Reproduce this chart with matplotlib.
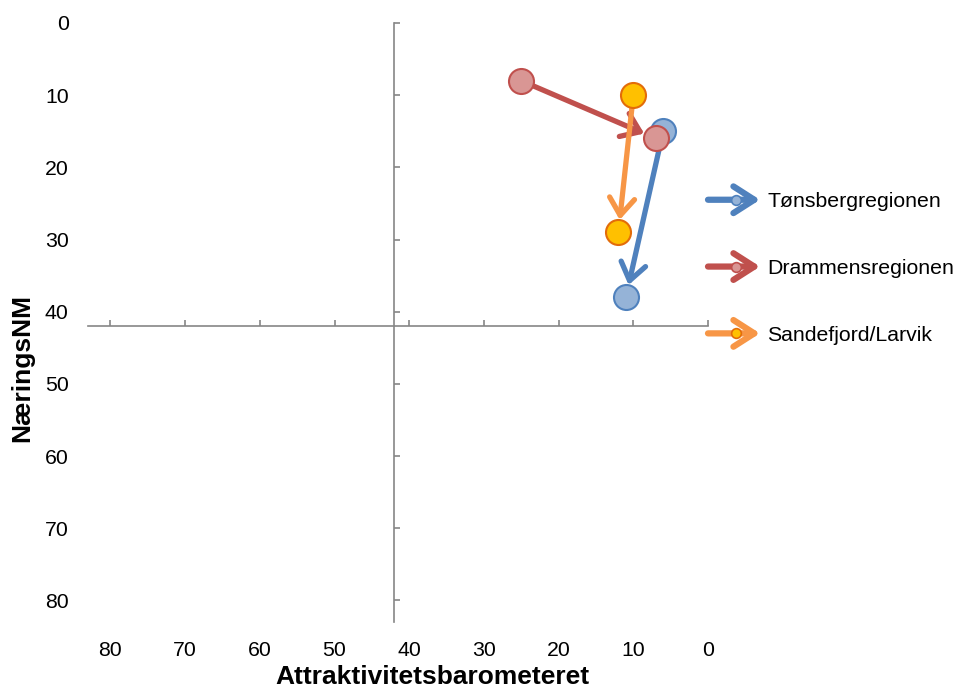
import matplotlib
matplotlib.use("Agg")
import matplotlib.pyplot as plt
from matplotlib.patches import FancyArrowPatch
from matplotlib.lines import Line2D
from matplotlib.legend_handler import HandlerBase

plt.rcParams['font.family'] = ['Liberation Sans', 'DejaVu Sans']

# ---- data ----
regions = ["Tønsbergregionen", "Drammensregionen", "Sandefjord/Larvik"]
x_start = [6, 25, 10]     # Attraktivitetsbarometeret (start)
y_start = [15, 8, 10]     # NæringsNM (start)
x_end = [11, 7, 12]
y_end = [38, 16, 29]
line_colors = ["#4F81BD", "#C0504D", "#F79646"]
face_colors = ["#95B3D7", "#D99694", "#FFC000"]
edge_colors = ["#4F81BD", "#C0504D", "#E36C09"]
ticks = [0, 10, 20, 30, 40, 50, 60, 70, 80]
cross = 42
axis_max = 83

fig = plt.figure(figsize=(9.55, 6.91), dpi=100)
rect = [88 / 955, 1 - 622 / 691, 620 / 955, 599 / 691]

# label axes (tick labels at the outer edges)
ax2 = fig.add_axes(rect)
ax2.set_xlim(axis_max, 0)
ax2.set_ylim(axis_max, 0)
ax2.set_xticks(ticks)
ax2.set_yticks(ticks)
for s in ax2.spines.values():
    s.set_visible(False)
ax2.patch.set_visible(False)
ax2.tick_params(length=0, labelsize=15.3, colors='#000000')
ax2.tick_params(axis='x', pad=14)
ax2.tick_params(axis='y', pad=14)
ax2.set_xlabel("Attraktivitetsbarometeret", fontsize=19, fontweight='bold')
ax2.set_ylabel("NæringsNM", fontsize=19, fontweight='bold')
ax2.xaxis.set_label_coords(0.555, -0.092)
ax2.xaxis.label.set_va('center')
ax2.yaxis.set_label_coords(-0.106, 0.424)
ax2.yaxis.label.set_va('center')

# main axes with crossing spines
ax = fig.add_axes(rect)
ax.set_xlim(axis_max, 0)
ax.set_ylim(axis_max, 0)
ax.patch.set_visible(False)
ax.set_xticks(ticks)
ax.set_yticks(ticks)
ax.spines['top'].set_visible(False)
ax.spines['right'].set_visible(False)
ax.spines['left'].set_position(('data', cross))
ax.spines['bottom'].set_position(('data', cross))
for k in ['left', 'bottom']:
    ax.spines[k].set_color('#868686')
    ax.spines[k].set_linewidth(1.2)
ax.tick_params(direction='in', length=4, width=1.2, color='#868686',
               labelbottom=False, labelleft=False)

astyle = "->,head_length=0.62,head_width=0.45"
for i in range(len(regions)):
    arr = FancyArrowPatch((x_start[i], y_start[i]), (x_end[i], y_end[i]),
                          arrowstyle=astyle, mutation_scale=20,
                          color=line_colors[i], lw=3.8,
                          shrinkA=0, shrinkB=9, zorder=2 + 2 * i,
                          capstyle='round', joinstyle='round')
    ax.add_patch(arr)
    ax.plot([x_start[i], x_end[i]], [y_start[i], y_end[i]], linestyle='none',
            marker='o', ms=18, mfc=face_colors[i], mec=edge_colors[i],
            mew=1.5, zorder=3 + 2 * i, clip_on=False)


class ArrowHandler(HandlerBase):
    def create_artists(self, legend, orig_handle, xdescent, ydescent,
                       width, height, fontsize, trans):
        y = height / 2 - ydescent
        x0 = -xdescent
        arr = FancyArrowPatch((x0, y), (x0 + width, y),
                              arrowstyle="->,head_length=0.75,head_width=0.48",
                              mutation_scale=20, color=orig_handle.get_color(),
                              lw=4.5, shrinkA=0, shrinkB=0, transform=trans,
                              capstyle='round', joinstyle='round')
        mk = Line2D([x0 + width * 0.54], [y], linestyle='none', marker='o',
                    ms=7, mfc=orig_handle.get_markerfacecolor(),
                    mec=orig_handle.get_markeredgecolor(), mew=1.2,
                    transform=trans)
        return [arr, mk]


handles = [Line2D([], [], color=line_colors[i], marker='o',
                  mfc=face_colors[i], mec=edge_colors[i]) for i in range(len(regions))]
leg = ax.legend(handles, regions, handler_map={Line2D: ArrowHandler()},
                loc='center left', bbox_to_anchor=(708 / 955, 1 - 268.5 / 691),
                bbox_transform=fig.transFigure, frameon=False, fontsize=15.3,
                handlelength=2.45, handletextpad=0.35, labelspacing=2.25,
                borderpad=0, borderaxespad=0)

fig.savefig("out.png", dpi=100)
